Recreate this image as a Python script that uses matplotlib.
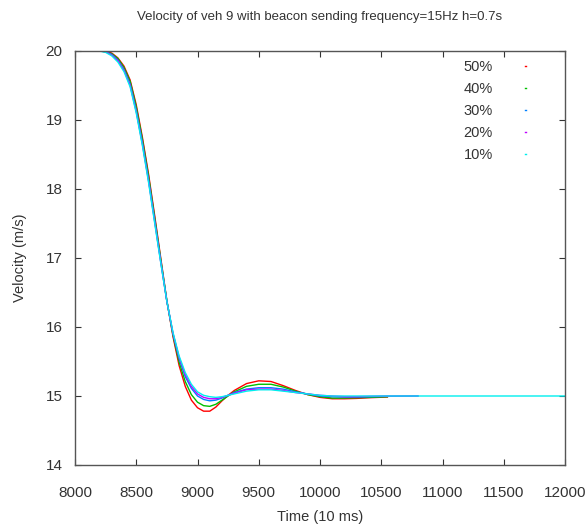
import matplotlib
matplotlib.use("Agg")
import matplotlib.pyplot as plt

plt.rcParams['font.family'] = ['Liberation Sans', 'DejaVu Sans']

# sample times (10 ms)
time = [8000, 8200, 8250, 8300, 8350, 8400, 8450, 8500, 8550, 8600, 8650,
        8700, 8750, 8800, 8850, 8900, 8950, 9000, 9050, 9100, 9150, 9200,
        9250, 9300, 9400, 9500, 9600, 9700, 9800, 9900, 10000, 10100, 10200,
        10300, 10400, 10550]
time_mid = time + [10800]
time_long = time + [10800, 12000]

v50 = [20.0, 20.0, 20.0, 19.97, 19.90, 19.78, 19.58, 19.22, 18.75, 18.22, 17.62,
       17.00, 16.38, 15.86, 15.44, 15.14, 14.94, 14.83, 14.78, 14.78, 14.84, 14.93,
       15.01, 15.08, 15.18, 15.22, 15.21, 15.15, 15.08, 15.02, 14.98, 14.96, 14.96,
       14.965, 14.975, 14.985]
v40 = [20.0, 20.0, 19.99, 19.96, 19.89, 19.76, 19.56, 19.19, 18.72, 18.19, 17.59,
       16.98, 16.38, 15.88, 15.49, 15.21, 15.02, 14.91, 14.86, 14.85, 14.88, 14.94,
       15.00, 15.06, 15.14, 15.17, 15.17, 15.13, 15.07, 15.02, 14.99, 14.97, 14.97,
       14.975, 14.98, 14.99]
v30 = [20.0, 20.0, 19.99, 19.95, 19.87, 19.73, 19.52, 19.14, 18.67, 18.14, 17.55,
       16.95, 16.37, 15.90, 15.54, 15.28, 15.11, 15.00, 14.95, 14.93, 14.94, 14.97,
       15.01, 15.05, 15.10, 15.12, 15.12, 15.10, 15.06, 15.03, 15.00, 14.99, 14.985,
       14.985, 14.99, 14.995, 15.0]
v20 = [20.0, 20.0, 19.99, 19.94, 19.86, 19.72, 19.50, 19.12, 18.65, 18.12, 17.53,
       16.94, 16.37, 15.91, 15.56, 15.31, 15.14, 15.03, 14.98, 14.96, 14.96, 14.98,
       15.01, 15.04, 15.09, 15.10, 15.10, 15.08, 15.05, 15.03, 15.01, 15.0, 14.99,
       14.99, 14.995, 15.0, 15.0]
v10 = [20.0, 20.0, 19.98, 19.93, 19.84, 19.70, 19.48, 19.10, 18.63, 18.10, 17.51,
       16.93, 16.37, 15.92, 15.58, 15.34, 15.17, 15.06, 15.01, 14.99, 14.98, 14.99,
       15.01, 15.03, 15.07, 15.09, 15.09, 15.07, 15.05, 15.03, 15.01, 15.0, 15.0,
       15.0, 15.0, 15.0, 15.0, 15.0]

labels = ['50%', '40%', '30%', '20%', '10%']
colors = ['#ff0000', '#00c000', '#0080ff', '#c000ff', '#00eeee']

fig = plt.figure(figsize=(5.88, 5.31), dpi=100)
ax = fig.add_axes([75/588, 1-465/531, 490/588, 414/531])

series = [(time, v50), (time, v40), (time_mid, v30), (time_mid, v20), (time_long, v10)]
for (t, v), lab, c in zip(series, labels, colors):
    ax.plot(t, v, color=c, lw=1, label=lab)

ax.set_xlim(8000, 12000)
ax.set_ylim(14, 20)
ax.set_xticks(range(8000, 12001, 500))
ax.set_yticks(range(14, 21))
ax.tick_params(direction='in', length=4.5, width=0.8, top=True, right=True,
               labelsize=11, colors='#333333')
ax.tick_params(axis='x', pad=15)
ax.tick_params(axis='y', pad=9)
for s in ax.spines.values():
    s.set_linewidth(1)
    s.set_color('#555555')

ax.set_title('Velocity of veh 9 with beacon sending frequency=15Hz h=0.7s',
             fontsize=9.5, pad=22, color='#333333')
ax.set_xlabel('Time (10 ms)', fontsize=10.5, labelpad=7, color='#333333')
ax.set_ylabel('Velocity (m/s)', fontsize=10.5, labelpad=13, color='#333333')

ax.legend(loc='upper right', bbox_to_anchor=(0.92, 0.978), frameon=False,
          markerfirst=False, handlelength=0.06, handletextpad=2.2,
          borderaxespad=0, borderpad=0, labelspacing=0.55, fontsize=10.5,
          labelcolor='#333333')

fig.savefig('out.png', dpi=100)
